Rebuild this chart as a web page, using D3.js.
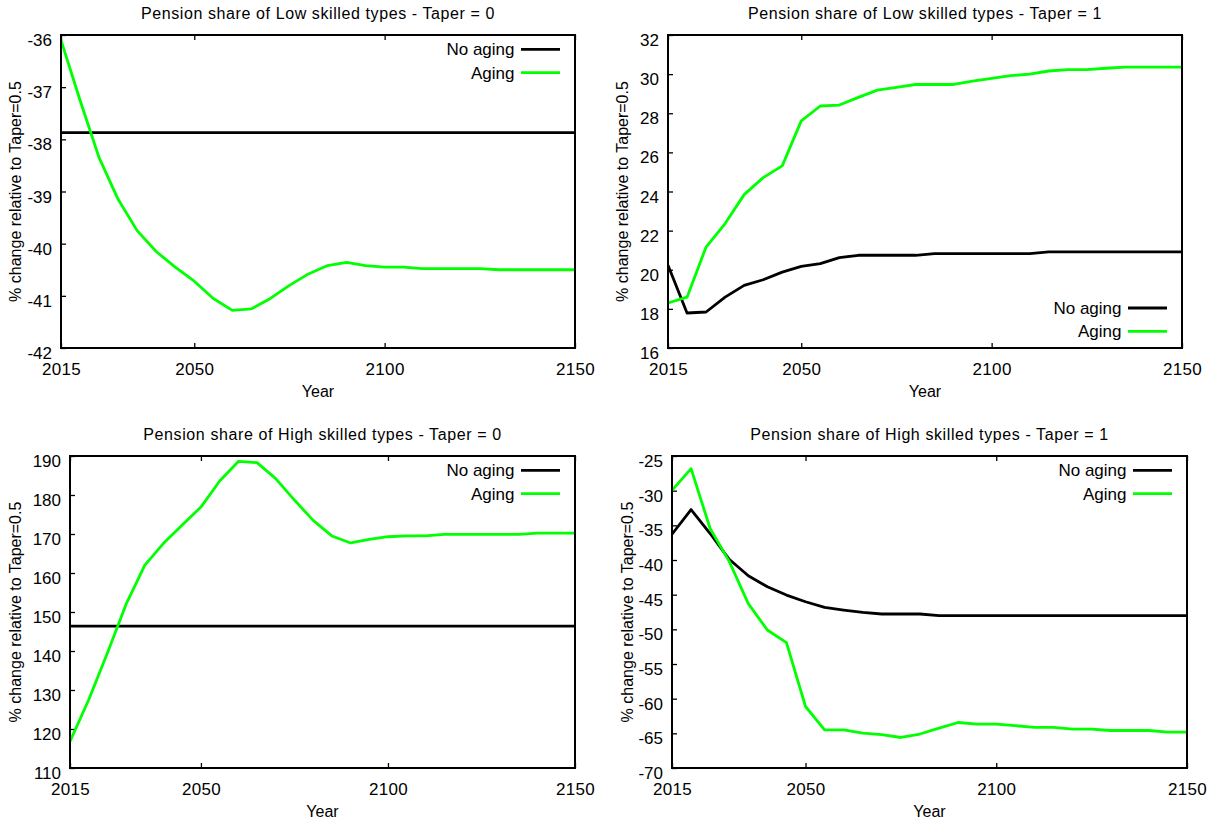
<!DOCTYPE html>
<html>
<head>
<meta charset="utf-8">
<script src="https://cdn.jsdelivr.net/npm/d3@7"></script>
<style>
  body { margin: 0; background: #fff; }
  svg { display: block; font-family: "Liberation Sans", Arial, sans-serif; }
</style>
</head>
<body>
<svg width="1214" height="823"></svg>
<script>
// years (5-year steps)
var years = [2015, 2020, 2025, 2030, 2035, 2040, 2045, 2050, 2055, 2060, 2065, 2070, 2075, 2080,
             2085, 2090, 2095, 2100, 2105, 2110, 2115, 2120, 2125, 2130, 2135, 2140, 2145, 2150];

// Low skilled, Taper = 0
var lowT0NoAging = [-37.87, -37.87, -37.87, -37.87, -37.87, -37.87, -37.87, -37.87, -37.87, -37.87,
                    -37.87, -37.87, -37.87, -37.87, -37.87, -37.87, -37.87, -37.87, -37.87, -37.87,
                    -37.87, -37.87, -37.87, -37.87, -37.87, -37.87, -37.87, -37.87];
var lowT0Aging = [-36.1, -37.25, -38.35, -39.15, -39.75, -40.15, -40.45, -40.72, -41.05, -41.28,
                  -41.25, -41.05, -40.8, -40.58, -40.42, -40.36, -40.42, -40.45, -40.45, -40.48,
                  -40.48, -40.48, -40.48, -40.5, -40.5, -40.5, -40.5, -40.5];

// Low skilled, Taper = 1
var lowT1NoAging = [20.23, 17.79, 17.84, 18.6, 19.2, 19.49, 19.88, 20.17, 20.31, 20.62,
                    20.74, 20.74, 20.74, 20.74, 20.82, 20.82, 20.82, 20.82, 20.82, 20.82,
                    20.91, 20.91, 20.91, 20.91, 20.91, 20.91, 20.91, 20.91];
var lowT1Aging = [18.3, 18.6, 21.16, 22.36, 23.84, 24.71, 25.31, 27.61, 28.37, 28.42,
                  28.81, 29.18, 29.32, 29.47, 29.47, 29.47, 29.64, 29.78, 29.92, 30.0,
                  30.16, 30.23, 30.23, 30.3, 30.36, 30.36, 30.36, 30.36];

// High skilled, Taper = 0
var highT0NoAging = [146.4, 146.4, 146.4, 146.4, 146.4, 146.4, 146.4, 146.4, 146.4, 146.4,
                     146.4, 146.4, 146.4, 146.4, 146.4, 146.4, 146.4, 146.4, 146.4, 146.4,
                     146.4, 146.4, 146.4, 146.4, 146.4, 146.4, 146.4, 146.4];
var highT0Aging = [116.8, 127.5, 139.5, 152.0, 162.0, 167.6, 172.3, 176.9, 183.6, 188.6,
                   188.3, 184.2, 178.7, 173.5, 169.5, 167.7, 168.6, 169.3, 169.5, 169.5,
                   169.9, 169.9, 169.9, 169.9, 169.9, 170.2, 170.2, 170.2];

// High skilled, Taper = 1
var highT1NoAging = [-36.28, -32.73, -36.18, -39.9, -42.27, -43.86, -45.06, -46.02, -46.83, -47.22,
                     -47.55, -47.79, -47.79, -47.79, -48.03, -48.03, -48.03, -48.03, -48.03, -48.03,
                     -48.03, -48.03, -48.03, -48.03, -48.03, -48.03, -48.03, -48.03];
var highT1Aging = [-29.94, -26.82, -35.46, -40.2, -46.3, -50.1, -51.92, -61.13, -64.49, -64.49,
                   -64.97, -65.2, -65.6, -65.1, -64.25, -63.44, -63.67, -63.67, -63.9, -64.15,
                   -64.15, -64.4, -64.4, -64.59, -64.59, -64.59, -64.83, -64.83];

var xTicks = [2015, 2050, 2100, 2150];
var lowT0Ticks = [-42, -41, -40, -39, -38, -37, -36];
var lowT1Ticks = [16, 18, 20, 22, 24, 26, 28, 30, 32];
var highT0Ticks = [110, 120, 130, 140, 150, 160, 170, 180, 190];
var highT1Ticks = [-70, -65, -60, -55, -50, -45, -40, -35, -30, -25];

var seriesNames = ["No aging", "Aging"];
var seriesColors = ["#000000", "#00ff00"];

var panels = [
  {title: "Pension share of Low skilled types - Taper = 0", left: 61, right: 575, top: 35, bottom: 348,
   ticks: lowT0Ticks, data: [lowT0NoAging, lowT0Aging], ylabX: 21, legendTop: true},
  {title: "Pension share of Low skilled types - Taper = 1", left: 668, right: 1182, top: 35, bottom: 348,
   ticks: lowT1Ticks, data: [lowT1NoAging, lowT1Aging], ylabX: 628, legendTop: false},
  {title: "Pension share of High skilled types - Taper = 0", left: 70, right: 575, top: 456, bottom: 768,
   ticks: highT0Ticks, data: [highT0NoAging, highT0Aging], ylabX: 21, legendTop: true},
  {title: "Pension share of High skilled types - Taper = 1", left: 672, right: 1187, top: 456, bottom: 768,
   ticks: highT1Ticks, data: [highT1NoAging, highT1Aging], ylabX: 633, legendTop: true}
];

// plain hyphen for negatives, like the original
var fmt = function (d) { return String(d); };

var svg = d3.select("svg");

panels.forEach(function (p, pi) {
  var x = d3.scaleLinear().domain([2015, 2150]).range([p.left, p.right]);
  var y = d3.scaleLinear().domain(d3.extent(p.ticks)).range([p.bottom, p.top]);
  var g = svg.append("g");

  // clip for the series
  svg.append("clipPath").attr("id", "clip" + pi)
    .append("rect")
    .attr("x", p.left).attr("y", p.top)
    .attr("width", p.right - p.left).attr("height", p.bottom - p.top);

  // title
  g.append("text")
    .attr("x", (p.left + p.right) / 2).attr("y", p.top - 16.5)
    .attr("text-anchor", "middle")
    .style("font-size", "16px").style("letter-spacing", "0.6px")
    .text(p.title);

  // axes: ticks point inward
  var yAxis = d3.axisLeft(y).tickValues(p.ticks).tickFormat(fmt)
    .tickSizeInner(-5).tickSizeOuter(0).tickPadding(9);
  var xAxis = d3.axisBottom(x).tickValues(xTicks).tickFormat(fmt)
    .tickSizeInner(-5).tickSizeOuter(0).tickPadding(15);
  var xTop = d3.axisTop(x).tickValues(xTicks).tickFormat("").tickSizeInner(-5).tickSizeOuter(0);

  var ya = g.append("g").attr("transform", "translate(" + p.left + ",0)").call(yAxis);
  ya.selectAll("text").attr("dy", "0.62em").attr("y", 0)
    .style("font-size", "17px").style("fill", "#000");

  var xa = g.append("g").attr("transform", "translate(0," + p.bottom + ")").call(xAxis);
  xa.selectAll("text").attr("dy", null).attr("y", 27)
    .style("font-size", "17px").style("letter-spacing", "0.3px").style("fill", "#000");

  var xt = g.append("g").attr("transform", "translate(0," + p.top + ")").call(xTop);

  [ya, xa, xt].forEach(function (a) {
    a.select(".domain").remove();
    a.selectAll("line").attr("stroke", "#000").attr("stroke-width", 1.3);
  });

  // axis titles
  g.append("text")
    .attr("x", (p.left + p.right) / 2).attr("y", p.bottom + 49)
    .attr("text-anchor", "middle")
    .style("font-size", "16px")
    .text("Year");

  g.append("text")
    .attr("transform", "translate(" + p.ylabX + "," + (p.top + p.bottom) / 2 + ") rotate(-90)")
    .attr("text-anchor", "middle")
    .style("font-size", "16px")
    .text("% change relative to Taper=0.5");

  // series
  var line = d3.line()
    .x(function (d, i) { return x(years[i]); })
    .y(function (d) { return y(d); });

  p.data.forEach(function (s, si) {
    g.append("path")
      .datum(s)
      .attr("clip-path", "url(#clip" + pi + ")")
      .attr("fill", "none")
      .attr("stroke", seriesColors[si])
      .attr("stroke-width", 2.8)
      .attr("stroke-linejoin", "round")
      .attr("d", line);
  });

  // frame
  g.append("rect")
    .attr("x", p.left).attr("y", p.top)
    .attr("width", p.right - p.left).attr("height", p.bottom - p.top)
    .attr("fill", "none").attr("stroke", "#000").attr("stroke-width", 2);

  // legend
  var ly0 = p.legendTop ? p.top + 14.3 : p.bottom - 40;
  seriesNames.forEach(function (name, si) {
    var ly = ly0 + si * 23.4;
    g.append("line")
      .attr("x1", p.right - 54).attr("x2", p.right - 15)
      .attr("y1", ly).attr("y2", ly)
      .attr("stroke", seriesColors[si]).attr("stroke-width", 2.8);
    g.append("text")
      .attr("x", p.right - 60.5).attr("y", ly + 6)
      .attr("text-anchor", "end")
      .style("font-size", "17px")
      .text(name);
  });
});
</script>
</body>
</html>
